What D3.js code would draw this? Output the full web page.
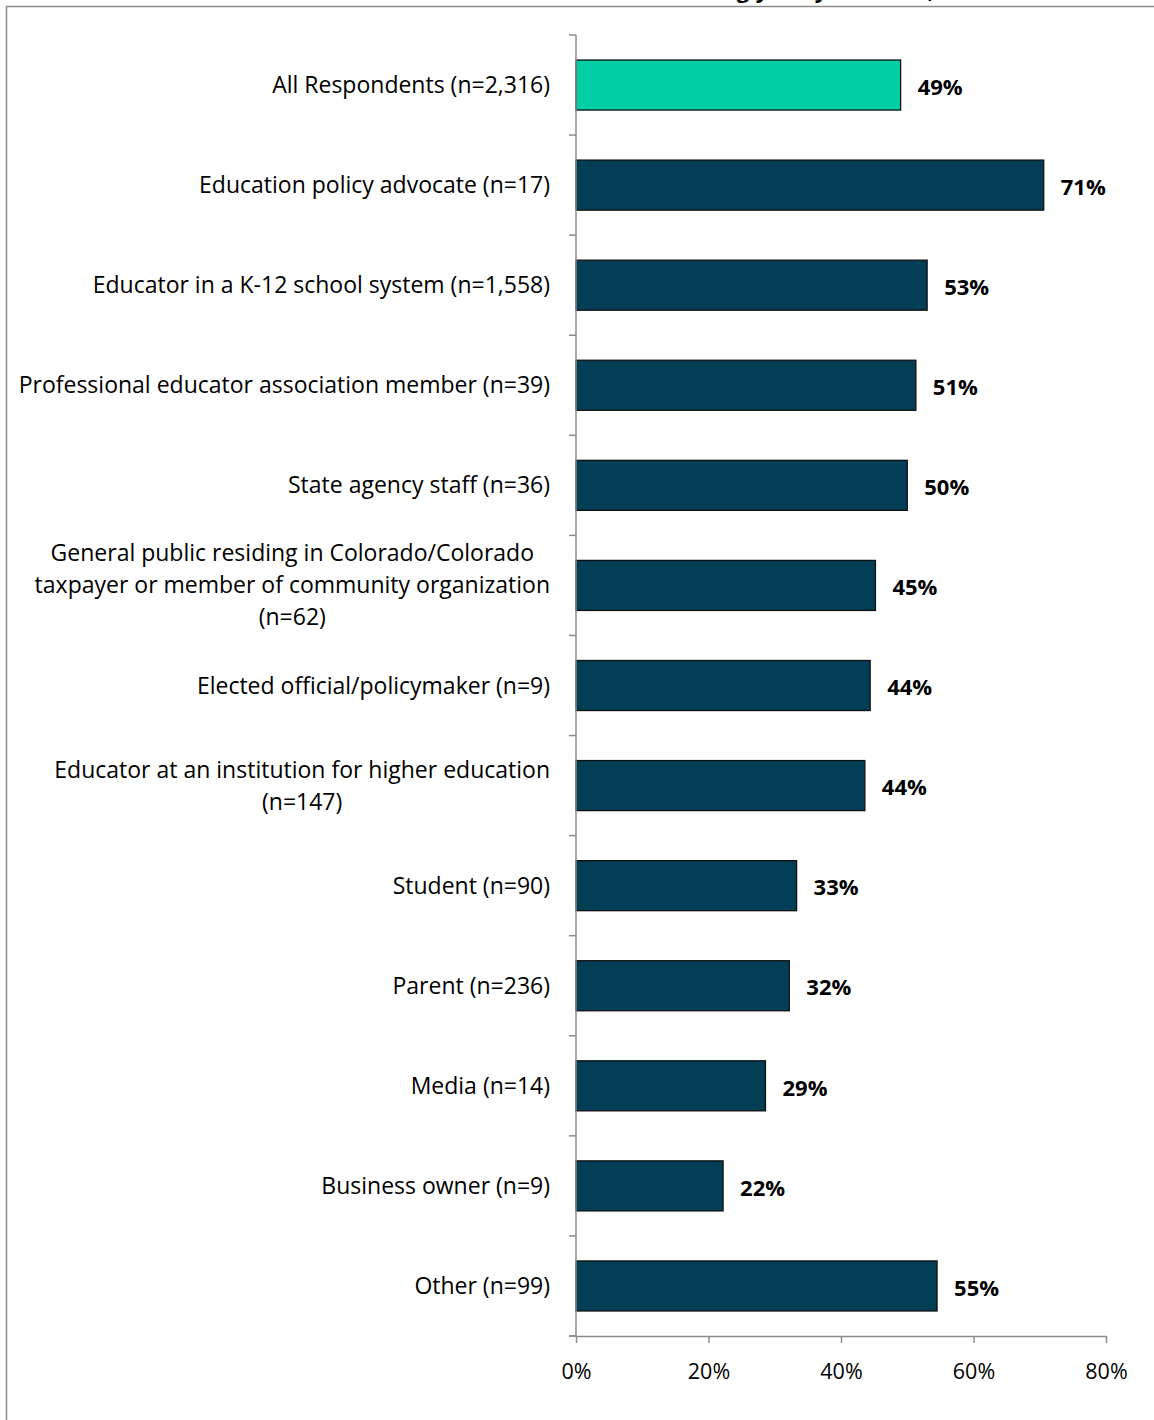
<!DOCTYPE html>
<html><head><meta charset="utf-8">
<script src="https://cdn.jsdelivr.net/npm/d3@7"></script>
<style>body{margin:0;background:#fff}svg{display:block}</style>
</head><body>
<svg id="c" width="1154" height="1420"></svg>
<script>
const categories = [
  "All Respondents (n=2,316)",
  "Education policy advocate (n=17)",
  "Educator in a K-12 school system (n=1,558)",
  "Professional educator association member (n=39)",
  "State agency staff (n=36)",
  "General public residing in Colorado/Colorado|taxpayer or member of community organization|(n=62)",
  "Elected official/policymaker (n=9)",
  "Educator at an institution for higher education|(n=147)",
  "Student (n=90)",
  "Parent (n=236)",
  "Media (n=14)",
  "Business owner (n=9)",
  "Other (n=99)"
];
const values = [49, 70.6, 53, 51.3, 50, 45.2, 44.4, 43.6, 33.3, 32.2, 28.6, 22.2, 54.5];
const valueLabels = ["49%","71%","53%","51%","50%","45%","44%","44%","33%","32%","29%","22%","55%"];
const xTicks = [0, 20, 40, 60, 80];
const titleText = "Percent Strongly/Very Satisfied,";

const svg = d3.select("#c");
const font = "'Open Sans', sans-serif";
const M = {left: 576, right: 1106, top: 35, bottom: 1336};

// frame
svg.append("rect").attr("x", 6.5).attr("y", 6.5).attr("width", 1160).attr("height", 1430)
  .attr("fill", "none").attr("stroke", "#8c8c8c").attr("stroke-width", 1.5);
// title (cut off at top edge, as in the source picture)
svg.append("text").attr("x", 934).attr("y", -2).attr("text-anchor", "end")
  .attr("font-family", font).attr("font-size", 22).attr("font-weight", "bold").text(titleText);

const x = d3.scaleLinear().domain([0, 80]).range([M.left, M.right]);
const y = d3.scaleBand().domain(categories).range([M.top, M.bottom]).paddingInner(0.5).paddingOuter(0.25);

// bars
svg.append("g").selectAll("rect").data(values).join("rect")
  .attr("x", x(0)).attr("y", (d, i) => y(categories[i]))
  .attr("width", d => x(d) - x(0)).attr("height", y.bandwidth())
  .attr("fill", (d, i) => i === 0 ? "#00cfa6" : "#023e56")
  .attr("stroke", "#111").attr("stroke-width", 1.3);

// value labels
svg.append("g").selectAll("text").data(values).join("text")
  .attr("x", d => x(d) + 17).attr("y", (d, i) => y(categories[i]) + y.bandwidth() / 2 + 2)
  .attr("dy", "0.35em").attr("font-family", font).attr("font-size", 22).attr("font-weight", "bold")
  .attr("fill", "#000").text((d, i) => valueLabels[i]);

// y axis line + ticks at band boundaries
const step = y.step();
const gy = svg.append("g");
gy.append("line").attr("x1", M.left).attr("x2", M.left).attr("y1", M.top).attr("y2", M.bottom)
  .attr("stroke", "#8c8c8c").attr("stroke-width", 1.5);
const bounds = d3.range(categories.length + 1).map(i => M.top + i * step);
gy.selectAll("line.t").data(bounds).join("line").attr("class", "t")
  .attr("x1", M.left - 7).attr("x2", M.left).attr("y1", d => d).attr("y2", d => d)
  .attr("stroke", "#8c8c8c").attr("stroke-width", 1.5);

// category labels
const labG = svg.append("g").attr("font-family", font).attr("font-size", 23).attr("fill", "#000");
categories.forEach((c, i) => {
  const lines = c.split("|");
  const cy = y(c) + y.bandwidth() / 2;
  const lh = 32;
  const t = labG.append("text").attr("text-anchor", "middle");
  const spans = lines.map(l => t.append("tspan").text(l));
  let maxW = 0;
  spans.forEach(s => { maxW = Math.max(maxW, s.node().getComputedTextLength()); });
  const cx = 550 - maxW / 2;
  spans.forEach((s, j) => s.attr("x", cx).attr("y", cy + (j - (lines.length - 1) / 2) * lh).attr("dy", "0.35em"));
});

// x axis
const gx = svg.append("g").attr("transform", `translate(0,${M.bottom})`)
  .call(d3.axisBottom(x).tickValues(xTicks).tickFormat(d => d + "%").tickSize(7).tickSizeOuter(0).tickPadding(21));
gx.select(".domain").attr("stroke", "#8c8c8c").attr("stroke-width", 1.5);
gx.selectAll(".tick line").attr("stroke", "#8c8c8c").attr("stroke-width", 1.5);
gx.selectAll(".tick text").attr("font-family", font).attr("font-size", 21.5).attr("fill", "#000");
gx.append("line").attr("x1", M.left - 7).attr("x2", M.left).attr("y1", 0).attr("y2", 0)
  .attr("stroke", "#8c8c8c").attr("stroke-width", 1.5);
</script>
</body></html>
